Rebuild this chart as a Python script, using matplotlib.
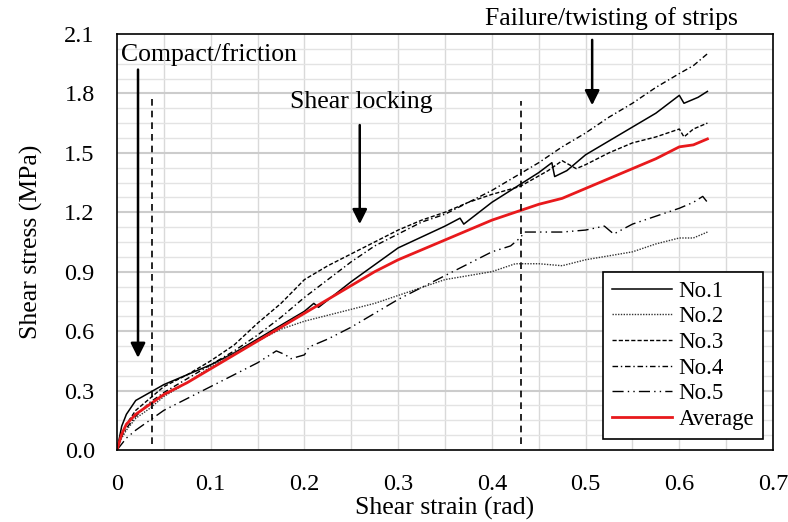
import numpy as np
import matplotlib
matplotlib.use("Agg")
import matplotlib.pyplot as plt

plt.rcParams['font.family'] = ['Liberation Serif', 'DejaVu Serif']
plt.rcParams['font.size'] = 17

# --- data (shear strain in rad, shear stress in MPa) ---
x1 = [0, 0.005, 0.01, 0.02, 0.035, 0.05, 0.075, 0.1, 0.125, 0.15, 0.175, 0.2, 0.21, 0.215,
      0.25, 0.3, 0.35, 0.366, 0.37, 0.4, 0.43, 0.45, 0.464, 0.467, 0.48, 0.5, 0.525, 0.55,
      0.575, 0.6, 0.605, 0.62, 0.63]
y1 = [0, 0.12, 0.18, 0.25, 0.29, 0.33, 0.38, 0.43, 0.49, 0.56, 0.63, 0.70, 0.74, 0.72,
      0.85, 1.02, 1.13, 1.17, 1.14, 1.25, 1.34, 1.40, 1.45, 1.38, 1.41, 1.49, 1.56, 1.63,
      1.70, 1.79, 1.75, 1.78, 1.81]

x2 = [0, 0.005, 0.01, 0.02, 0.035, 0.05, 0.075, 0.1, 0.125, 0.15, 0.175, 0.2, 0.225, 0.25,
      0.275, 0.3, 0.325, 0.35, 0.375, 0.4, 0.425, 0.45, 0.475, 0.5, 0.525, 0.55, 0.575, 0.6,
      0.615, 0.63]
y2 = [0, 0.06, 0.10, 0.16, 0.21, 0.27, 0.34, 0.42, 0.49, 0.55, 0.61, 0.65, 0.68, 0.71,
      0.74, 0.78, 0.82, 0.86, 0.88, 0.90, 0.94, 0.94, 0.93, 0.96, 0.98, 1.00, 1.04, 1.07,
      1.07, 1.10]

x3 = [0, 0.005, 0.01, 0.02, 0.035, 0.05, 0.075, 0.1, 0.125, 0.15, 0.175, 0.2, 0.225, 0.25,
      0.275, 0.3, 0.325, 0.35, 0.375, 0.4, 0.43, 0.46, 0.475, 0.49, 0.5, 0.525, 0.55, 0.575,
      0.6, 0.605, 0.615, 0.63]
y3 = [0, 0.08, 0.13, 0.20, 0.26, 0.32, 0.38, 0.45, 0.53, 0.64, 0.74, 0.86, 0.93, 0.99,
      1.05, 1.11, 1.16, 1.20, 1.25, 1.29, 1.33, 1.41, 1.46, 1.42, 1.44, 1.50, 1.55, 1.58,
      1.62, 1.58, 1.62, 1.65]

x4 = [0, 0.005, 0.01, 0.02, 0.035, 0.05, 0.075, 0.1, 0.125, 0.15, 0.175, 0.2, 0.225, 0.25,
      0.275, 0.3, 0.325, 0.35, 0.375, 0.4, 0.425, 0.45, 0.475, 0.5, 0.525, 0.55, 0.575, 0.6,
      0.615, 0.63]
y4 = [0, 0.07, 0.11, 0.17, 0.24, 0.29, 0.36, 0.43, 0.50, 0.58, 0.67, 0.77, 0.86, 0.95,
      1.03, 1.09, 1.15, 1.19, 1.25, 1.31, 1.38, 1.45, 1.53, 1.60, 1.68, 1.75, 1.83, 1.90,
      1.94, 2.00]

x5 = [0, 0.01, 0.02, 0.035, 0.05, 0.075, 0.1, 0.125, 0.15, 0.17, 0.18, 0.185, 0.2, 0.205,
      0.225, 0.25, 0.275, 0.3, 0.325, 0.35, 0.375, 0.4, 0.42, 0.43, 0.435, 0.45, 0.475, 0.5,
      0.52, 0.53, 0.55, 0.575, 0.6, 0.615, 0.625, 0.63]
y5 = [0, 0.06, 0.10, 0.15, 0.20, 0.26, 0.32, 0.38, 0.44, 0.50, 0.48, 0.46, 0.48, 0.52,
      0.56, 0.62, 0.69, 0.76, 0.82, 0.88, 0.94, 1.00, 1.03, 1.07, 1.10, 1.10, 1.10, 1.11,
      1.13, 1.09, 1.14, 1.18, 1.22, 1.25, 1.28, 1.25]

xa = [0, 0.005, 0.01, 0.02, 0.035, 0.05, 0.075, 0.1, 0.125, 0.15, 0.175, 0.2, 0.225, 0.25,
      0.275, 0.3, 0.325, 0.35, 0.375, 0.4, 0.425, 0.45, 0.475, 0.5, 0.525, 0.55, 0.575, 0.6,
      0.615, 0.63]
ya = [0, 0.08, 0.13, 0.18, 0.23, 0.28, 0.34, 0.41, 0.48, 0.55, 0.62, 0.69, 0.76, 0.83,
      0.90, 0.96, 1.01, 1.06, 1.11, 1.16, 1.20, 1.24, 1.27, 1.32, 1.37, 1.42, 1.47, 1.53,
      1.54, 1.57]

# stage boundaries
bounds = [0.037, 0.431]

fig = plt.figure(figsize=(7.88, 5.22), dpi=100)
ax = fig.add_axes([0.1485, 0.138, 0.8325, 0.797])

# grid like an excel chart
for v in np.arange(0.05, 0.7, 0.05):
    ax.axvline(v, color='#d9d9d9', lw=1.0, zorder=0)
for h in np.arange(0.075, 2.1, 0.075):
    if abs(h / 0.3 - round(h / 0.3)) < 1e-6:
        ax.axhline(h, color='#cccccc', lw=1.5, zorder=0)
    else:
        ax.axhline(h, color='#e3e3e3', lw=1.0, zorder=0)

ax.plot(x1, y1, color='black', lw=1.1, ls='-', label='No.1')
ax.plot(x2, y2, color='#333333', lw=1.0, ls=(0, (1, 1)), label='No.2')
ax.plot(x3, y3, color='black', lw=1.0, ls=(0, (3, 1.5)), label='No.3')
ax.plot(x4, y4, color='black', lw=1.0, ls=(0, (4, 2, 1, 2)), label='No.4')
ax.plot(x5, y5, color='black', lw=1.0, ls=(0, (8, 3, 1, 3, 1, 3)), label='No.5')
ax.plot(xa, ya, color='#e8191c', lw=2.0, label='Average')

for b, top in zip(bounds, [1.78, 1.76]):
    ax.plot([b, b], [0.03, top], color='black', lw=1.2, ls=(0, (4, 3)))

arrow = dict(arrowstyle='-|>', color='black', lw=1.8, mutation_scale=22, shrinkA=0, shrinkB=0)
ax.annotate('', xy=(0.0224, 0.465), xytext=(0.0224, 1.92), arrowprops=arrow)
ax.annotate('', xy=(0.259, 1.14), xytext=(0.259, 1.64), arrowprops=arrow)
ax.annotate('', xy=(0.507, 1.74), xytext=(0.507, 2.07), arrowprops=arrow, annotation_clip=False)

ax.text(0.004, 1.995, 'Compact/friction', ha='left', va='center', fontsize=18.5)
ax.text(0.261, 1.757, 'Shear locking', ha='center', va='center', fontsize=18.5)
ax.text(0.528, 2.177, 'Failure/twisting of strips', ha='center', va='center', fontsize=18.5,
        clip_on=False)

ax.set_xlim(0, 0.7)
ax.set_ylim(0, 2.1)
ax.set_xticks(np.arange(0, 0.71, 0.1))
ax.set_xticklabels(['0', '0.1', '0.2', '0.3', '0.4', '0.5', '0.6', '0.7'])
ax.set_yticks(np.arange(0, 2.11, 0.3))
ax.set_yticklabels(['%.1f' % t for t in np.arange(0, 2.11, 0.3)])
ax.tick_params(axis='x', length=0, pad=17, labelsize=17.5)
ax.tick_params(axis='y', length=0, pad=16, labelsize=17.5)
ax.set_xlabel('Shear strain (rad)', fontsize=18.5, labelpad=2)
ax.set_ylabel('Shear stress (MPa)', fontsize=18.5, labelpad=15)
for s in ax.spines.values():
    s.set_color('black')
    s.set_linewidth(1.2)

leg = ax.legend(loc='lower right', bbox_to_anchor=(0.992, 0.015), fontsize=16.5, frameon=True,
                fancybox=False, edgecolor='black', framealpha=1, handlelength=2.6,
                handletextpad=0.3, labelspacing=0.2, borderpad=0.4, borderaxespad=0.2)
leg.get_frame().set_linewidth(1.2)

fig.savefig('out.png', dpi=100)
